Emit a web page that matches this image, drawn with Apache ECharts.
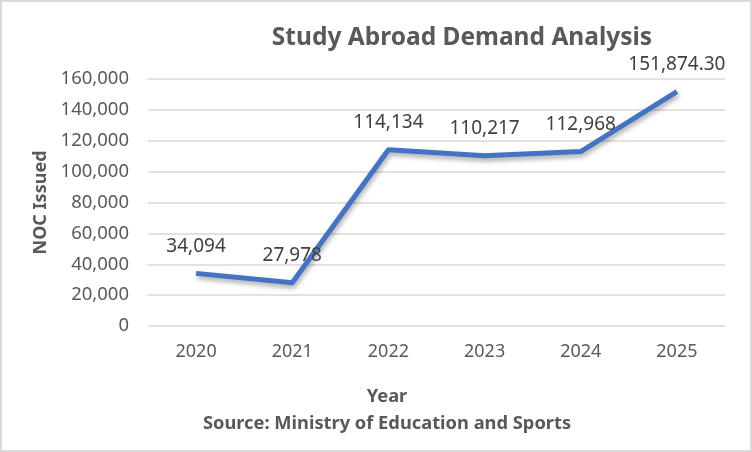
<!DOCTYPE html>
<html>
<head>
<meta charset="utf-8">
<style>
    html, body { margin: 0; padding: 0; background: #ffffff; }
    #chart { width: 752px; height: 452px; }
</style>
<script src="https://cdn.jsdelivr.net/npm/echarts@6/dist/echarts.min.js"></script>
</head>
<body>
<div id="chart"></div>
<script>
const years = ["2020", "2021", "2022", "2023", "2024", "2025"];
const nocIssued = [34094, 27978, 114134, 110217, 112968, 151874.30];
const yTicks = [0, 20000, 40000, 60000, 80000, 100000, 120000, 140000, 160000];

const TEXT_COLOR = "#595959";
const FONT = "Noto Sans, Open Sans, sans-serif";

function formatValue(value) {
    const decimals = Number.isInteger(value) ? 0 : 2;
    return value.toLocaleString("en-US", {
        minimumFractionDigits: decimals,
        maximumFractionDigits: decimals
    });
}

// Excel centres the axis title and the note on the chart area, not the plot
function centredText(text, y) {
    return {
        type: "text",
        x: 387,
        y,
        style: {
            text,
            fill: TEXT_COLOR,
            fontSize: 18.3,
            fontWeight: "bold",
            fontFamily: FONT,
            align: "center",
            verticalAlign: "middle"
        },
        silent: true
    };
}

const chart = echarts.init(document.getElementById("chart"));

chart.setOption({
    animation: false,
    textStyle: {
        fontFamily: FONT
    },
    title: {
        text: "Study Abroad Demand Analysis",
        left: 457,
        top: 21,
        textAlign: "center",
        textStyle: {
            color: TEXT_COLOR,
            fontSize: 24.5,
            fontWeight: "bold",
            fontFamily: FONT
        }
    },
    grid: {
        top: 79,
        right: 27,
        bottom: 126,
        left: 148,
        containLabel: false
    },
    xAxis: {
        type: "category",
        data: years,
        axisLine: { show: false },
        axisTick: { show: false },
        axisLabel: {
            color: TEXT_COLOR,
            fontSize: 18,
            margin: 17
        }
    },
    yAxis: {
        type: "value",
        min: yTicks[0],
        max: yTicks[yTicks.length - 1],
        interval: yTicks[1] - yTicks[0],
        name: "NOC Issued",
        nameLocation: "middle",
        nameGap: 98,
        nameTextStyle: {
            color: TEXT_COLOR,
            fontSize: 18,
            fontWeight: "bold"
        },
        axisLine: { show: false },
        axisTick: { show: false },
        axisLabel: {
            color: TEXT_COLOR,
            fontSize: 18.5,
            margin: 19,
            formatter: value => value.toLocaleString("en-US")
        },
        splitLine: {
            lineStyle: {
                color: "#d9d9d9",
                width: 1.5
            }
        }
    },
    series: [{
        name: "NOC Issued",
        type: "line",
        data: nocIssued,
        symbol: "circle",
        symbolSize: 1,
        itemStyle: {
            color: "rgba(68, 114, 196, 0)"
        },
        lineStyle: {
            color: "#4472c4",
            width: 5,
            shadowColor: "rgba(0, 0, 0, 0.35)",
            shadowBlur: 5,
            shadowOffsetY: 3,
            shadowOffsetX: 1
        },
        label: {
            show: true,
            position: "top",
            distance: 17,
            color: "#404040",
            fontSize: 19,
            formatter: params => formatValue(params.value)
        }
    }],
    graphic: [{
        type: "rect",
        shape: { x: 1, y: 1, width: 750, height: 450 },
        style: { fill: "none", stroke: "#d9d9d9", lineWidth: 2 },
        silent: true
    },
    centredText("Year", 397),
    centredText("Source: Ministry of Education and Sports", 424)
    ]
});
</script>
</body>
</html>
